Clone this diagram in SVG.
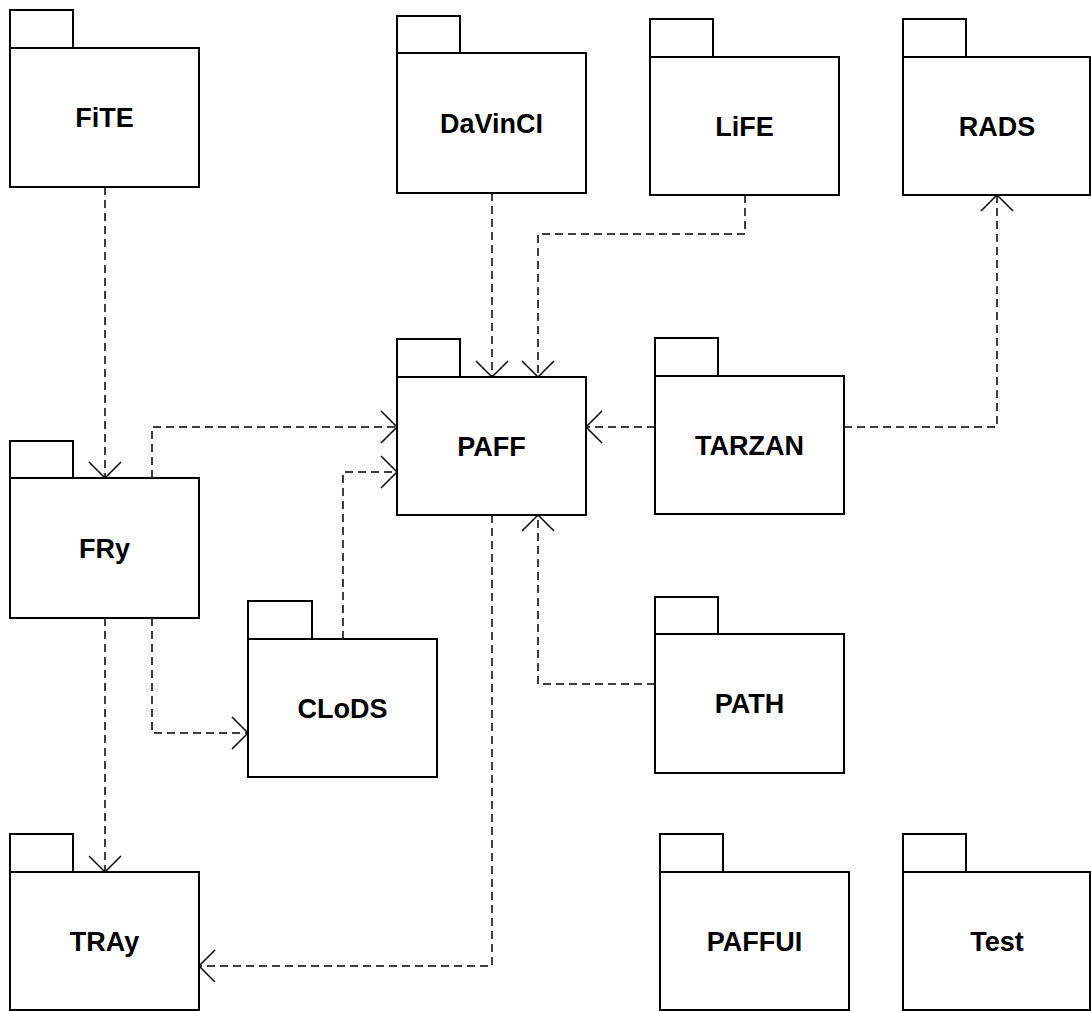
<svg xmlns="http://www.w3.org/2000/svg" width="1091" height="1011" viewBox="0 0 1091 1011">
<style>
.box{fill:#fff;stroke:#000;stroke-width:2}
.lbl{font-family:"Liberation Sans",Arial,sans-serif;font-weight:bold;font-size:27px;text-anchor:middle;fill:#000}
.dep{fill:none;stroke:#000;stroke-width:1.5;stroke-dasharray:8 5}
</style>
<defs>
<marker id="open" markerUnits="userSpaceOnUse" viewBox="-18 -18 20 36" refX="0" refY="0" markerWidth="20" markerHeight="36" orient="auto" overflow="visible">
<path d="M-16,-16 L0,0 L-16,16" fill="none" stroke="#000" stroke-width="1.5"/>
</marker>
</defs>
<rect width="1091" height="1011" fill="#fff"/>
<g id="connectors">
<path class="dep" d="M105,187 V478" marker-end="url(#open)"/>
<path class="dep" d="M152,478 V427 H397" marker-end="url(#open)"/>
<path class="dep" d="M492,193 V377" marker-end="url(#open)"/>
<path class="dep" d="M745,195 V234 H538 V377" marker-end="url(#open)"/>
<path class="dep" d="M655,427 H586" marker-end="url(#open)"/>
<path class="dep" d="M844,427 H997 V195" marker-end="url(#open)"/>
<path class="dep" d="M343,639 V472 H397" marker-end="url(#open)"/>
<path class="dep" d="M152,618 V733 H248" marker-end="url(#open)"/>
<path class="dep" d="M105,618 V872" marker-end="url(#open)"/>
<path class="dep" d="M492,515 V966 H199" marker-end="url(#open)"/>
<path class="dep" d="M655,684 H538 V515" marker-end="url(#open)"/>
</g>
<g id="FiTE"><rect class="box" x="10" y="10" width="63" height="38"/><rect class="box" x="10" y="48" width="189" height="139"/><text class="lbl" x="104.5" y="127">FiTE</text></g>
<g id="DaVinCI"><rect class="box" x="397" y="16" width="63" height="37"/><rect class="box" x="397" y="53" width="189" height="140"/><text class="lbl" x="491.5" y="133">DaVinCI</text></g>
<g id="LiFE"><rect class="box" x="650" y="19" width="63" height="38"/><rect class="box" x="650" y="57" width="189" height="138"/><text class="lbl" x="744.5" y="136">LiFE</text></g>
<g id="RADS"><rect class="box" x="903" y="19" width="63" height="38"/><rect class="box" x="903" y="57" width="187" height="138"/><text class="lbl" x="997" y="136">RADS</text></g>
<g id="FRy"><rect class="box" x="10" y="441" width="63" height="37"/><rect class="box" x="10" y="478" width="189" height="140"/><text class="lbl" x="104.5" y="558">FRy</text></g>
<g id="PAFF"><rect class="box" x="397" y="339" width="63" height="38"/><rect class="box" x="397" y="377" width="189" height="138"/><text class="lbl" x="491.5" y="456">PAFF</text></g>
<g id="TARZAN"><rect class="box" x="655" y="338" width="63" height="38"/><rect class="box" x="655" y="376" width="189" height="138"/><text class="lbl" x="749.5" y="455">TARZAN</text></g>
<g id="CLoDS"><rect class="box" x="248" y="601" width="64" height="38"/><rect class="box" x="248" y="639" width="189" height="138"/><text class="lbl" x="342.5" y="718">CLoDS</text></g>
<g id="PATH"><rect class="box" x="655" y="597" width="63" height="37"/><rect class="box" x="655" y="634" width="189" height="139"/><text class="lbl" x="749.5" y="713">PATH</text></g>
<g id="TRAy"><rect class="box" x="10" y="834" width="63" height="38"/><rect class="box" x="10" y="872" width="189" height="138"/><text class="lbl" x="104.5" y="951">TRAy</text></g>
<g id="PAFFUI"><rect class="box" x="660" y="834" width="63" height="38"/><rect class="box" x="660" y="872" width="189" height="138"/><text class="lbl" x="754.5" y="951">PAFFUI</text></g>
<g id="Test"><rect class="box" x="903" y="834" width="63" height="38"/><rect class="box" x="903" y="872" width="187" height="138"/><text class="lbl" x="997" y="951">Test</text></g>
</svg>
